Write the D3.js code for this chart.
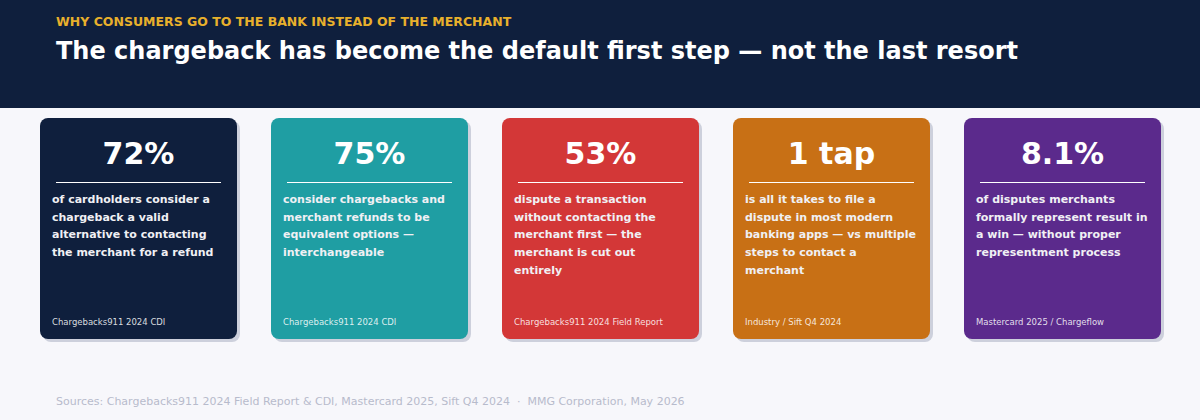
<!DOCTYPE html>
<html><head><meta charset="utf-8">
<script src="https://cdn.jsdelivr.net/npm/d3@7"></script>
<style>body{margin:0;background:#f7f7fb;font-family:"DejaVu Sans",sans-serif}</style>
</head><body><svg id="c" width="1200" height="420"></svg>
<script>
const stats = ["72%","75%","53%","1 tap","8.1%"];
const descriptions = [
 ["of cardholders consider a","chargeback a valid","alternative to contacting","the merchant for a refund"],
 ["consider chargebacks and","merchant refunds to be","equivalent options —","interchangeable"],
 ["dispute a transaction","without contacting the","merchant first — the","merchant is cut out","entirely"],
 ["is all it takes to file a","dispute in most modern","banking apps — vs multiple","steps to contact a","merchant"],
 ["of disputes merchants","formally represent result in","a win — without proper","representment process"]
];
const sources = ["Chargebacks911 2024 CDI","Chargebacks911 2024 CDI","Chargebacks911 2024 Field Report","Industry / Sift Q4 2024","Mastercard 2025 / Chargeflow"];
const colors = ["#0f1f3d","#1f9ea3","#d33737","#c87015","#5b2a8c"];

const svg = d3.select("#c");
svg.append("rect").attr("width",1200).attr("height",420).attr("fill","#f7f7fb");
svg.append("rect").attr("width",1200).attr("height",108).attr("fill","#0f1f3d");
svg.append("text").attr("x",56).attr("y",26).attr("fill","#e8b02c").attr("font-size",12.5).attr("font-weight","bold").text("WHY CONSUMERS GO TO THE BANK INSTEAD OF THE MERCHANT");
svg.append("text").attr("x",56).attr("y",59).attr("fill","#fff").attr("font-size",24).attr("font-weight","bold").text("The chargeback has become the default first step — not the last resort");

const x = d3.scaleBand().domain(d3.range(stats.length)).range([40,1161]).paddingInner(34/231).paddingOuter(0);
const w = x.bandwidth();
const g = svg.selectAll("g.card").data(stats).join("g").attr("transform",(d,i)=>`translate(${x(i)},118)`);
g.append("rect").attr("x",3).attr("y",3).attr("width",w).attr("height",221).attr("rx",8).attr("fill","#cdd0dc");
g.append("rect").attr("width",w).attr("height",221).attr("rx",8).attr("fill",(d,i)=>colors[i]);
g.append("text").attr("x",w/2).attr("y",46).attr("text-anchor","middle").attr("fill","#fff").attr("font-size",30).attr("font-weight","bold").text(d=>d);
g.append("line").attr("x1",16).attr("x2",w-16).attr("y1",64.5).attr("y2",64.5).attr("stroke","#fff").attr("stroke-width",1.2);
g.each(function(d,i){
  const t=d3.select(this).append("text").attr("fill","#f0f0f4").attr("font-size",11).attr("font-weight","bold");
  descriptions[i].forEach((l,j)=>t.append("tspan").attr("x",12).attr("y",85+j*17.7).text(l));
});
g.append("text").attr("x",12).attr("y",207).attr("fill","rgba(255,255,255,0.85)").attr("font-size",8.5).text((d,i)=>sources[i]);
svg.append("text").attr("x",56).attr("y",405).attr("fill","#b7bbcc").attr("font-size",11).attr("xml:space","preserve").style("white-space","pre").text("Sources: Chargebacks911 2024 Field Report & CDI, Mastercard 2025, Sift Q4 2024  ·  MMG Corporation, May 2026");
</script></body></html>
